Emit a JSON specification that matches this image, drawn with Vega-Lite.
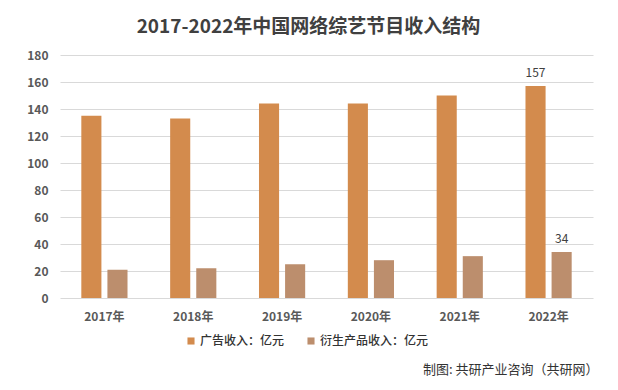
{
  "$schema": "https://vega.github.io/schema/vega-lite/v6.json",
  "autosize": "none",
  "width": 533,
  "height": 243,
  "padding": {"left": 60, "top": 55, "right": 25, "bottom": 92},
  "background": "#ffffff",
  "config": {
    "font": "Noto Sans CJK SC",
    "view": {"stroke": null}
  },
  "title": {
    "text": "2017-2022年中国网络综艺节目收入结构",
    "fontSize": 19,
    "fontWeight": "bold",
    "color": "#404040",
    "anchor": "middle",
    "dx": -18,
    "offset": 12
  },
  "data": {
    "values": [
      {"year": "2017年", "series": "广告收入：亿元", "value": 135},
      {"year": "2017年", "series": "衍生产品收入：亿元", "value": 21},
      {"year": "2018年", "series": "广告收入：亿元", "value": 133},
      {"year": "2018年", "series": "衍生产品收入：亿元", "value": 22},
      {"year": "2019年", "series": "广告收入：亿元", "value": 144},
      {"year": "2019年", "series": "衍生产品收入：亿元", "value": 25},
      {"year": "2020年", "series": "广告收入：亿元", "value": 144},
      {"year": "2020年", "series": "衍生产品收入：亿元", "value": 28},
      {"year": "2021年", "series": "广告收入：亿元", "value": 150},
      {"year": "2021年", "series": "衍生产品收入：亿元", "value": 31},
      {"year": "2022年", "series": "广告收入：亿元", "value": 157},
      {"year": "2022年", "series": "衍生产品收入：亿元", "value": 34}
    ]
  },
  "encoding": {
    "x": {
      "field": "year",
      "type": "nominal",
      "sort": null,
      "scale": {"paddingInner": 0.48, "paddingOuter": 0.24},
      "axis": {
        "title": "制图: 共研产业咨询（共研网）",
        "titleFontSize": 13,
        "titleFontWeight": "normal",
        "titleColor": "#333333",
        "titleAnchor": "end",
        "titleAlign": "right",
        "titleBaseline": "middle",
        "titleX": 538,
        "titleY": 71,
        "labelAngle": 0,
        "labelFontSize": 12,
        "labelFontWeight": "bold",
        "labelColor": "#595959",
        "labelPadding": 13,
        "domain": false,
        "ticks": false
      }
    },
    "xOffset": {
      "field": "series",
      "type": "nominal",
      "sort": ["广告收入：亿元", "衍生产品收入：亿元"],
      "scale": {"paddingInner": 0.23}
    },
    "y": {
      "field": "value",
      "type": "quantitative",
      "scale": {"domain": [0, 180]},
      "axis": {
        "title": null,
        "values": [0, 20, 40, 60, 80, 100, 120, 140, 160, 180],
        "labelFontSize": 12,
        "labelFontWeight": "bold",
        "labelColor": "#595959",
        "labelPadding": 12,
        "domain": false,
        "ticks": false,
        "gridColor": "#d9d9d9",
        "gridWidth": 1
      }
    }
  },
  "layer": [
    {
      "mark": {"type": "bar"},
      "encoding": {
        "color": {
          "field": "series",
          "type": "nominal",
          "scale": {
            "domain": ["广告收入：亿元", "衍生产品收入：亿元"],
            "range": ["#D38B4D", "#BC8E6D"]
          },
          "legend": {
            "title": null,
            "orient": "none",
            "direction": "horizontal",
            "legendX": 125,
            "legendY": 280,
            "symbolType": "square",
            "symbolSize": 50,
            "symbolStrokeWidth": 0,
            "labelFontSize": 12,
            "labelFontWeight": 500,
            "labelColor": "#333333",
            "labelOffset": 3,
            "columnPadding": 20
          }
        }
      }
    },
    {
      "transform": [{"filter": "datum.year == '2022年'"}],
      "mark": {"type": "text", "dy": -13, "fontSize": 12, "fontWeight": "normal", "color": "#404040"},
      "encoding": {
        "text": {"field": "value", "type": "quantitative"}
      }
    }
  ]
}
